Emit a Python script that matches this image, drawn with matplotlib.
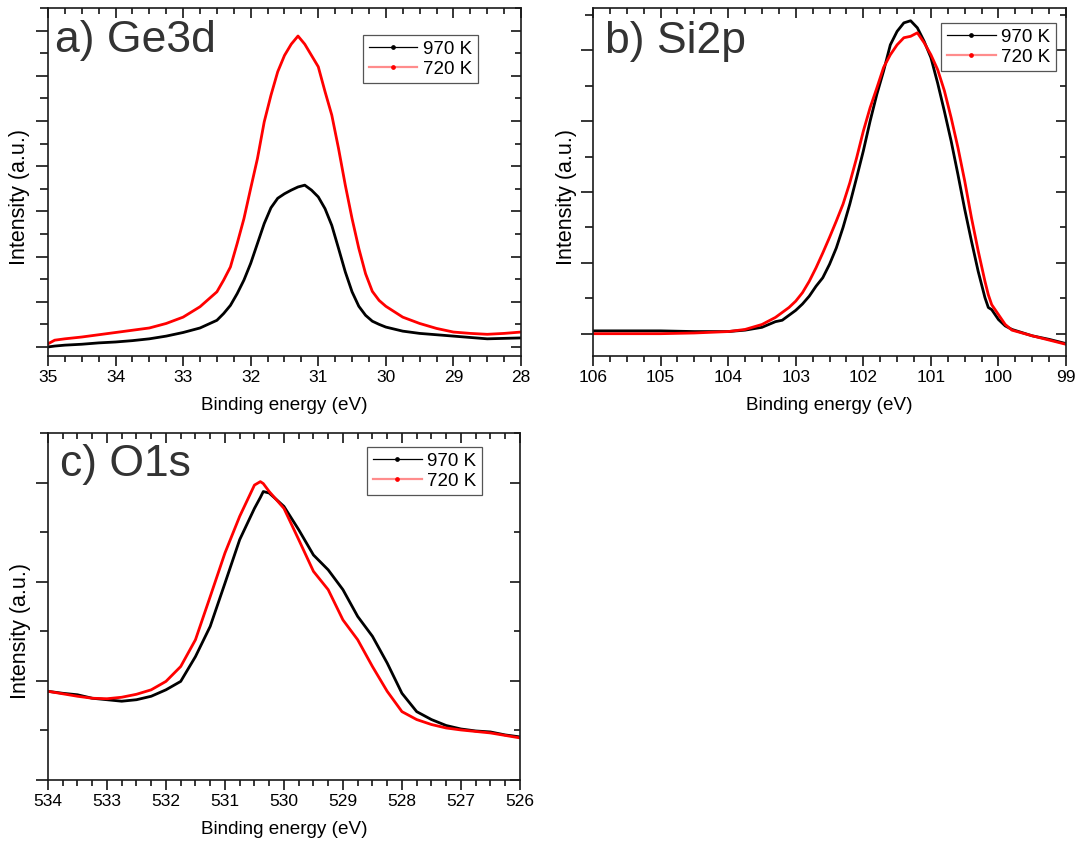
import matplotlib
matplotlib.use("Agg")
import matplotlib.pyplot as plt
from matplotlib.ticker import MultipleLocator, NullFormatter
from matplotlib.lines import Line2D

plt.rcParams['font.family'] = ['Liberation Sans', 'DejaVu Sans']

# ---------------- Ge 3d ----------------
ge_energy = [35.0, 34.9, 34.75, 34.5, 34.25, 34.0, 33.75, 33.5, 33.25, 33.0, 32.75,
             32.5, 32.4, 32.3, 32.2, 32.1, 32.0, 31.9, 31.8, 31.7, 31.6, 31.5,
             31.4, 31.3, 31.2, 31.1, 31.0, 30.9, 30.8, 30.7, 30.6, 30.5, 30.4,
             30.3, 30.2, 30.1, 30.0, 29.75, 29.5, 29.25, 29.0, 28.75, 28.5, 28.25, 28.0]
ge_970 = [0.00, 0.02, 0.04, 0.06, 0.09, 0.11, 0.14, 0.18, 0.24, 0.32, 0.42,
          0.59, 0.74, 0.92, 1.18, 1.48, 1.85, 2.29, 2.73, 3.08, 3.29, 3.39,
          3.47, 3.54, 3.58, 3.47, 3.32, 3.06, 2.69, 2.18, 1.66, 1.22, 0.90,
          0.70, 0.57, 0.50, 0.44, 0.35, 0.30, 0.27, 0.24, 0.21, 0.18, 0.19, 0.20]
ge_720 = [0.07, 0.15, 0.18, 0.22, 0.27, 0.32, 0.37, 0.42, 0.52, 0.66, 0.89,
          1.22, 1.48, 1.77, 2.29, 2.84, 3.51, 4.17, 4.98, 5.57, 6.09, 6.45,
          6.70, 6.88, 6.70, 6.45, 6.20, 5.65, 5.13, 4.39, 3.58, 2.84, 2.18,
          1.62, 1.23, 1.03, 0.90, 0.66, 0.52, 0.41, 0.33, 0.30, 0.28, 0.30, 0.33]

# ---------------- Si 2p ----------------
si_energy = [106.0, 105.5, 105.0, 104.5, 104.0, 103.75, 103.5, 103.3, 103.2, 103.1,
             103.0, 102.9, 102.8, 102.7, 102.6, 102.5, 102.4, 102.3, 102.2, 102.1,
             102.0, 101.9, 101.8, 101.7, 101.6, 101.5, 101.4, 101.3, 101.2, 101.1,
             101.0, 100.9, 100.8, 100.7, 100.6, 100.5, 100.4, 100.3, 100.2, 100.15,
             100.1, 100.0, 99.9, 99.8, 99.5, 99.25, 99.0]
si_970 = [0.04, 0.04, 0.04, 0.03, 0.03, 0.05, 0.09, 0.17, 0.19, 0.26,
          0.33, 0.42, 0.53, 0.67, 0.79, 0.98, 1.21, 1.50, 1.83, 2.20,
          2.58, 3.00, 3.38, 3.71, 4.08, 4.27, 4.39, 4.42, 4.32, 4.13,
          3.90, 3.54, 3.14, 2.72, 2.25, 1.76, 1.31, 0.88, 0.51, 0.37,
          0.34, 0.20, 0.11, 0.06, -0.03, -0.08, -0.14]
si_720 = [0.00, 0.00, 0.00, 0.01, 0.03, 0.06, 0.13, 0.23, 0.30, 0.37,
          0.46, 0.58, 0.74, 0.93, 1.14, 1.36, 1.59, 1.83, 2.13, 2.48,
          2.86, 3.19, 3.47, 3.76, 3.94, 4.08, 4.18, 4.20, 4.25, 4.11,
          3.94, 3.73, 3.43, 3.05, 2.63, 2.16, 1.64, 1.17, 0.74, 0.55,
          0.41, 0.27, 0.13, 0.05, -0.03, -0.09, -0.15]

# ---------------- O 1s ----------------
o_energy = [534.0, 533.75, 533.5, 533.25, 533.0, 532.75, 532.5, 532.25, 532.0, 531.75,
            531.5, 531.25, 531.0, 530.75, 530.5, 530.4, 530.35, 530.25, 530.0, 529.75,
            529.5, 529.25, 529.0, 528.75, 528.5, 528.25, 528.0, 527.75, 527.5, 527.25,
            527.0, 526.75, 526.5, 526.25, 526.0]
o_970 = [1.79, 1.75, 1.72, 1.65, 1.62, 1.59, 1.62, 1.69, 1.82, 1.99,
         2.49, 3.10, 3.97, 4.85, 5.48, 5.70, 5.82, 5.79, 5.52, 5.05,
         4.54, 4.24, 3.84, 3.30, 2.90, 2.36, 1.75, 1.38, 1.22, 1.10,
         1.03, 0.99, 0.97, 0.91, 0.87]
o_720 = [1.79, 1.74, 1.69, 1.65, 1.64, 1.67, 1.73, 1.82, 1.99, 2.29,
         2.83, 3.70, 4.58, 5.32, 5.95, 6.02, 5.98, 5.82, 5.48, 4.85,
         4.21, 3.84, 3.23, 2.83, 2.29, 1.79, 1.38, 1.22, 1.12, 1.05,
         1.01, 0.98, 0.95, 0.90, 0.85]

series_labels = ["970 K", "720 K"]
series_colors = ["#000000", "#ff0000"]

panels = [
    dict(rect=[0.0445, 0.5772, 0.4388, 0.4133], x=ge_energy, ys=[ge_970, ge_720],
         xlim=(35, 28), ylim=(-0.2, 7.5), ymaj=1.0, title="a) Ge3d",
         title_xy=(0.015, 0.874), leg=(0.909, 0.922), ylab=(-0.037, 0.458)),
    dict(rect=[0.5501, 0.5772, 0.4388, 0.4133], x=si_energy, ys=[si_970, si_720],
         xlim=(106, 99), ylim=(-0.315, 4.6), ymaj=1.0, title="b) Si2p",
         title_xy=(0.026, 0.871), leg=(0.979, 0.957), ylab=(-0.034, 0.457)),
    dict(rect=[0.0445, 0.0736, 0.4378, 0.4121], x=o_energy, ys=[o_970, o_720],
         xlim=(534, 526), ylim=(0, 7.0), ymaj=2.0, title="c) O1s",
         title_xy=(0.026, 0.876), leg=(0.920, 0.960), ylab=(-0.037, 0.43)),
]

fig = plt.figure(figsize=(10.78, 8.42), dpi=100)

for p in panels:
    ax = fig.add_axes(p["rect"])
    for y, lab, col in zip(p["ys"], series_labels, series_colors):
        ax.plot(p["x"], y, color=col, lw=2.0, label=lab, solid_joinstyle="round")
    ax.set_xlim(*p["xlim"])
    ax.set_ylim(*p["ylim"])

    ax.xaxis.set_major_locator(MultipleLocator(1))
    ax.xaxis.set_minor_locator(MultipleLocator(0.25))
    ax.yaxis.set_major_locator(MultipleLocator(p["ymaj"]))
    ax.yaxis.set_minor_locator(MultipleLocator(p["ymaj"] / 2))
    ax.yaxis.set_major_formatter(NullFormatter())

    ax.tick_params(axis="x", which="major", direction="out", length=7, width=1.1,
                   labelsize=12.5, pad=3, top=False)
    ax.tick_params(axis="x", which="minor", direction="out", length=4, width=1.1, top=False)
    ax.tick_params(axis="y", which="major", direction="out", length=9, width=1.1, right=False)
    ax.tick_params(axis="y", which="minor", direction="out", length=6, width=1.1, right=False)

    # inward ticks on the top and right frame edges
    top = ax.secondary_xaxis("top")
    top.xaxis.set_major_locator(MultipleLocator(1))
    top.xaxis.set_minor_locator(MultipleLocator(0.25))
    top.tick_params(which="major", direction="in", length=7, width=1.1, labeltop=False)
    top.tick_params(which="minor", direction="in", length=4, width=1.1)
    top.spines["top"].set_visible(False)
    right = ax.secondary_yaxis("right")
    right.yaxis.set_major_locator(MultipleLocator(p["ymaj"]))
    right.yaxis.set_minor_locator(MultipleLocator(p["ymaj"] / 2))
    right.tick_params(which="major", direction="in", length=7, width=1.1, labelright=False)
    right.tick_params(which="minor", direction="in", length=4, width=1.1)
    right.spines["right"].set_visible(False)

    for s in ax.spines.values():
        s.set_linewidth(1.2)
        s.set_color("#1a1a1a")

    ax.set_xlabel("Binding energy (eV)", fontsize=13.6, labelpad=9)
    ax.set_ylabel("Intensity (a.u.)", fontsize=15.5)
    ax.yaxis.set_label_coords(*p["ylab"])

    ax.text(p["title_xy"][0], p["title_xy"][1], p["title"], transform=ax.transAxes,
            fontsize=32, color="#333333", ha="left", va="baseline")

    handles = [
        Line2D([0], [0], color="#000000", lw=0.9, marker="o", markersize=2.4),
        Line2D([0], [0], color=(1.0, 0.55, 0.55), lw=1.6, marker="o", markersize=2.4,
               markerfacecolor="#ff0000", markeredgecolor="#ff0000"),
    ]
    leg = ax.legend(handles, series_labels, loc="upper right",
                    bbox_to_anchor=p["leg"], fontsize=13.5, frameon=True,
                    fancybox=False, framealpha=1, edgecolor="#555555",
                    handlelength=2.6, handletextpad=0.3, borderpad=0.3,
                    labelspacing=0.15, borderaxespad=0)
    leg.get_frame().set_linewidth(0.9)

fig.savefig("out.png", dpi=100)
